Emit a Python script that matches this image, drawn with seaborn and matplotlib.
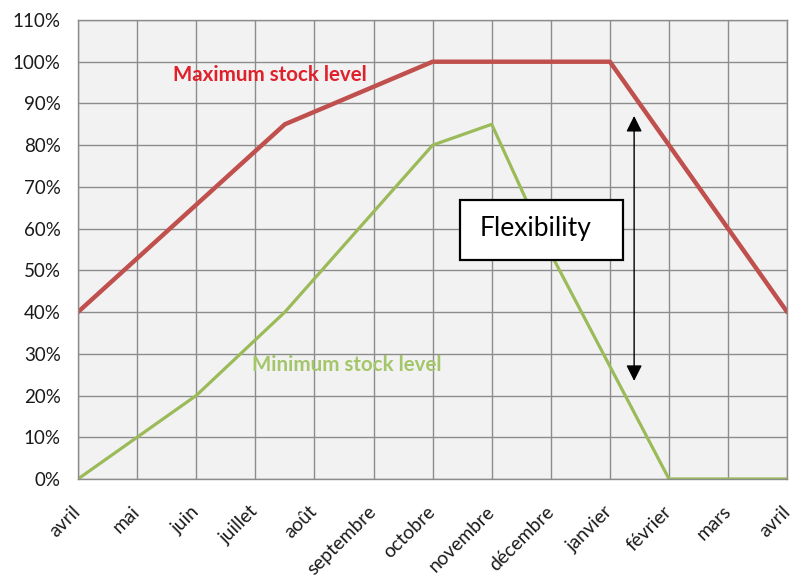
import matplotlib
matplotlib.use("Agg")
import matplotlib.pyplot as plt
import matplotlib.transforms as mtransforms
import seaborn as sns
import pandas as pd
from matplotlib.patches import Rectangle
from matplotlib.ticker import FuncFormatter

# ---- data ----
months = ["avril", "mai", "juin", "juillet", "août", "septembre", "octobre",
          "novembre", "décembre", "janvier", "février", "mars", "avril"]
max_pos = [0, 3.5, 6, 9, 12]
max_level = [40, 85, 100, 100, 40]
min_pos = [0, 2, 3.5, 6, 7, 8, 9, 10, 12]
min_level = [0, 20, 40, 80, 85, 54, 27, 0, 0]
y_ticks = [0, 10, 20, 30, 40, 50, 60, 70, 80, 90, 100, 110]

df_max = pd.DataFrame({"pos": max_pos, "level": max_level})
df_min = pd.DataFrame({"pos": min_pos, "level": min_level})

sns.set_style("whitegrid", {
    "axes.facecolor": "#F2F2F2",
    "grid.color": "#8C8C8C",
    "axes.edgecolor": "#8C8C8C",
})
plt.rcParams["font.family"] = ["Lato", "DejaVu Sans"]

fig = plt.figure(figsize=(8, 5.81), dpi=100)
ax = fig.add_axes([0.0975, 0.1756, 0.8865, 0.79])

sns.lineplot(data=df_max, x="pos", y="level", ax=ax, color="#C0504D",
             linewidth=3.2, sort=False, estimator=None)
sns.lineplot(data=df_min, x="pos", y="level", ax=ax, color="#9BBB59",
             linewidth=2.3, sort=False, estimator=None)

ax.set_xlim(0, 12)
ax.set_ylim(0, 110)
ax.set_xticks(range(len(months)))
ax.set_xticklabels(months, rotation=45, ha="right", va="center",
                   rotation_mode="anchor", fontsize=13.8, color="#1a1a1a")
offset = mtransforms.ScaledTranslation(6 / 100, 0, fig.dpi_scale_trans)
for lab in ax.get_xticklabels():
    lab.set_transform(lab.get_transform() + offset)
ax.set_yticks(y_ticks)
ax.yaxis.set_major_formatter(FuncFormatter(lambda v, p: f"{int(v)}%"))
ax.tick_params(axis="y", labelsize=13.5, colors="#1a1a1a", length=4.5,
               width=1, color="#8C8C8C", pad=8)
ax.tick_params(axis="x", length=4.5, width=1, color="#8C8C8C", pad=17)
ax.grid(True, color="#8C8C8C", linewidth=1)
for s in ax.spines.values():
    s.set_color("#8C8C8C")
    s.set_linewidth(1)
ax.set_xlabel("")
ax.set_ylabel("")

ax.text(3.25, 96.9, "Maximum stock level", color="#E0202A", fontsize=14.8,
        fontweight="bold", ha="center", va="center")
ax.text(4.54, 27.3, "Minimum stock level", color="#A4C66A", fontsize=14.8,
        fontweight="bold", ha="center", va="center")

ax.add_patch(Rectangle((6.47, 52.5), 2.75, 14.4, facecolor="white",
                       edgecolor="black", linewidth=1.6, zorder=5))
ax.text(6.8, 60.0, "Flexibility", fontsize=19, color="black",
        ha="left", va="center", zorder=6)

ax.annotate("", xy=(9.41, 87.0), xytext=(9.41, 23.5),
            arrowprops=dict(arrowstyle="<|-|>", color="black", lw=1.0,
                            mutation_scale=24, shrinkA=0, shrinkB=0),
            zorder=6)

fig.savefig("out.png", dpi=100)
